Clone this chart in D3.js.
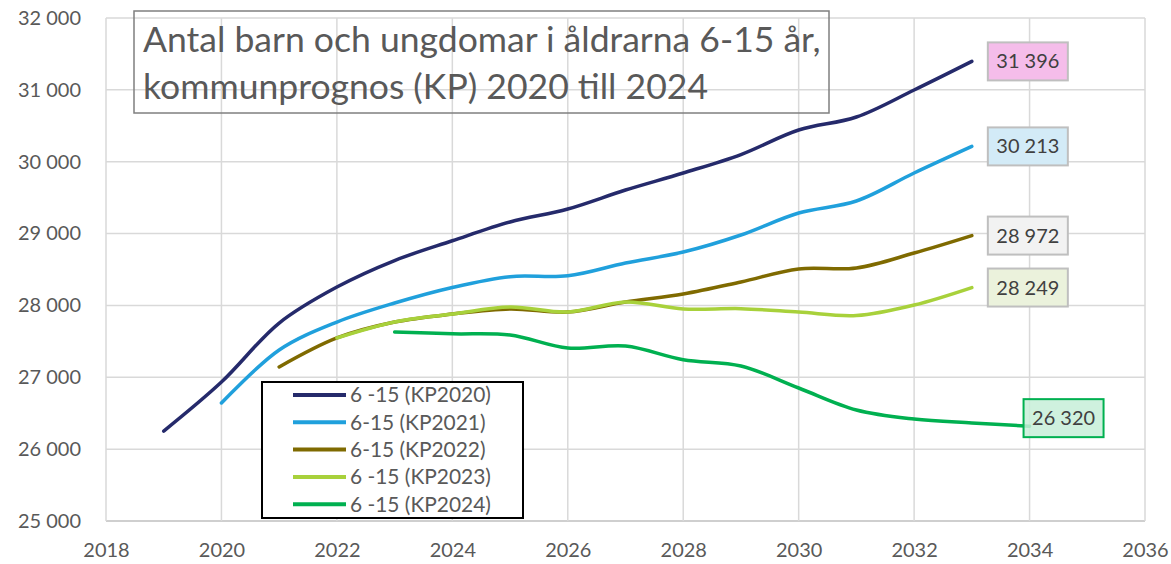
<!DOCTYPE html>
<html>
<head>
<meta charset="utf-8">
<script src="https://cdn.jsdelivr.net/npm/d3@7"></script>
<style>
  body { margin: 0; background: #ffffff; }
  svg { display: block; }
</style>
</head>
<body>
<div id="chart"></div>
<script>
// series names (legend order)
const seriesNames = ["6 -15 (KP2020)", "6-15 (KP2021)", "6-15 (KP2022)", "6 -15 (KP2023)", "6 -15 (KP2024)"];

// first year of each forecast
const startYears = [2019, 2020, 2021, 2022, 2023];

// yearly values
const kp2020 = [26252, 26934, 27755, 28256, 28625, 28900, 29161, 29342, 29606, 29843, 30100, 30441, 30622, 30998, 31396];
const kp2021 = [26642, 27380, 27769, 28034, 28250, 28400, 28412, 28590, 28743, 28980, 29286, 29453, 29843, 30213];
const kp2022 = [27143, 27547, 27769, 27880, 27950, 27908, 28048, 28159, 28326, 28507, 28521, 28729, 28972];
const kp2023 = [27547, 27769, 27880, 27978, 27908, 28048, 27950, 27955, 27908, 27860, 28006, 28249];
const kp2024 = [27630, 27605, 27588, 27407, 27435, 27245, 27157, 26851, 26545, 26419, 26364, 26320];

const seriesValues = [kp2020, kp2021, kp2022, kp2023, kp2024];

// axis ticks
const yearTicks = [2018, 2020, 2022, 2024, 2026, 2028, 2030, 2032, 2034, 2036];
const valueTicks = [25000, 26000, 27000, 28000, 29000, 30000, 31000, 32000];

const titleLines = ["Antal barn och ungdomar i åldrarna 6-15 år,", "kommunprognos (KP) 2020 till 2024"];

// styles
const lineColors = ["#252a6b", "#20a0dc", "#7f6a00", "#a8d13b", "#00b050"];
const labelFills = ["#f5bdea", "#d3ebf7", "#f2f2f2", "#ebf2dc", "#c7eed8"];
const labelStrokes = ["#bfbfbf", "#bfbfbf", "#bfbfbf", "#bfbfbf", "#00b050"];
// offset of each end label box relative to its last point
const labelDx = [16, 16, 16, 16, -6];
const labelDy = [0, 0, 0, 0, -8];

const w = 1171;
const h = 564;
const margin = { top: 18, right: 26, bottom: 43, left: 106 };
const fontFamily = "'Source Sans Pro', Lato, 'Noto Sans', sans-serif";

const svg = d3
  .select("#chart")
  .append("svg")
  .attr("width", w)
  .attr("height", h);

const x = d3
  .scaleLinear()
  .domain([2018, 2036])
  .range([margin.left, w - margin.right]);

const y = d3
  .scaleLinear()
  .domain([25000, 32000])
  .range([h - margin.bottom, margin.top]);

const sv = d3.formatLocale({ decimal: ",", thousands: "\u00a0", grouping: [3], currency: ["", ""] });
const fmt = sv.format(",d");

// font size needed so that a sample string gets a given width
function fitSize(sample, width) {
  const t = svg
    .append("text")
    .attr("font-family", fontFamily)
    .attr("font-size", 100)
    .text(sample);
  const len = t.node().getComputedTextLength();
  t.remove();
  return (100 * width) / len;
}

const tickSize = fitSize("32 000", 63);
const titleSize = fitSize(titleLines[0], 678);
const legendSize = fitSize(seriesNames[0], 141);

// gridlines
svg
  .append("g")
  .selectAll("line.hgrid")
  .data(valueTicks)
  .enter()
  .append("line")
  .attr("x1", x(2018))
  .attr("x2", x(2036))
  .attr("y1", (d) => y(d))
  .attr("y2", (d) => y(d))
  .attr("stroke", (d) => (d === 25000 ? "#bfbfbf" : "#d9d9d9"))
  .attr("stroke-width", 1.5);

svg
  .append("g")
  .selectAll("line.vgrid")
  .data(yearTicks)
  .enter()
  .append("line")
  .attr("x1", (d) => x(d))
  .attr("x2", (d) => x(d))
  .attr("y1", y(32000))
  .attr("y2", y(25000))
  .attr("stroke", "#d9d9d9")
  .attr("stroke-width", 1.5);

// tick labels
const yAxis = d3.axisLeft(y).tickValues(valueTicks).tickFormat(fmt).tickSize(0).tickPadding(25);
const yg = svg.append("g").attr("transform", "translate(" + margin.left + ",0)").call(yAxis);
yg.select(".domain").remove();
yg.selectAll("text")
  .attr("font-family", fontFamily)
  .attr("font-size", tickSize)
  .attr("fill", "#595959");

const xAxis = d3.axisBottom(x).tickValues(yearTicks).tickFormat(d3.format("d")).tickSize(0).tickPadding(22);
const xg = svg.append("g").attr("transform", "translate(0," + (h - margin.bottom) + ")").call(xAxis);
xg.select(".domain").remove();
xg.selectAll("text")
  .attr("font-family", fontFamily)
  .attr("font-size", tickSize)
  .attr("fill", "#595959");

// title box (no fill, gridlines show through)
svg
  .append("rect")
  .attr("x", 134)
  .attr("y", 11)
  .attr("width", 695)
  .attr("height", 102)
  .attr("fill", "none")
  .attr("stroke", "#7f7f7f")
  .attr("stroke-width", 1.5);

svg
  .append("g")
  .selectAll("text")
  .data(titleLines)
  .enter()
  .append("text")
  .attr("x", 143)
  .attr("y", (d, i) => 52 + i * 47)
  .attr("font-family", fontFamily)
  .attr("font-size", titleSize)
  .attr("fill", "#595959")
  .text((d) => d);

// smoothed lines
const line = d3
  .line()
  .x((d) => x(d.year))
  .y((d) => y(d.value))
  .curve(d3.curveCatmullRom.alpha(0.5));

const series = seriesValues.map(function (vals, i) {
  return {
    name: seriesNames[i],
    points: vals.map((v, j) => ({ year: startYears[i] + j, value: v })),
  };
});

svg
  .append("g")
  .selectAll("path")
  .data(series)
  .enter()
  .append("path")
  .attr("d", (d) => line(d.points))
  .attr("fill", "none")
  .attr("stroke", (d, i) => lineColors[i])
  .attr("stroke-width", 3.5)
  .attr("stroke-linecap", "round");

// end value labels
const labels = svg
  .append("g")
  .selectAll("g")
  .data(series)
  .enter()
  .append("g")
  .attr("transform", function (d, i) {
    const last = d.points[d.points.length - 1];
    return "translate(" + (x(last.year) + labelDx[i]) + "," + (y(last.value) + labelDy[i]) + ")";
  });

labels
  .append("rect")
  .attr("x", 0)
  .attr("y", -19)
  .attr("width", 80)
  .attr("height", 38)
  .attr("fill", (d, i) => labelFills[i])
  .attr("fill-opacity", (d, i) => (i === 4 ? 0.85 : 1))
  .attr("stroke", (d, i) => labelStrokes[i])
  .attr("stroke-width", 2);

labels
  .append("text")
  .attr("x", 40)
  .attr("y", 0)
  .attr("dy", "0.35em")
  .attr("text-anchor", "middle")
  .attr("font-family", fontFamily)
  .attr("font-size", tickSize)
  .attr("fill", "#404040")
  .text((d) => fmt(d.points[d.points.length - 1].value));

// legend
const legend = svg.append("g").attr("transform", "translate(262,382)");

legend
  .append("rect")
  .attr("width", 261)
  .attr("height", 136)
  .attr("fill", "#ffffff")
  .attr("stroke", "#000000")
  .attr("stroke-width", 2);

const rows = legend
  .selectAll("g.row")
  .data(seriesNames)
  .enter()
  .append("g")
  .attr("class", "row")
  .attr("transform", (d, i) => "translate(0," + (13 + i * 27.3) + ")");

rows
  .append("line")
  .attr("x1", 31)
  .attr("x2", 84)
  .attr("stroke", (d, i) => lineColors[i])
  .attr("stroke-width", 4);

rows
  .append("text")
  .attr("x", 88)
  .attr("dy", "0.35em")
  .attr("font-family", fontFamily)
  .attr("font-size", legendSize)
  .attr("fill", "#595959")
  .text((d) => d);
</script>
</body>
</html>
